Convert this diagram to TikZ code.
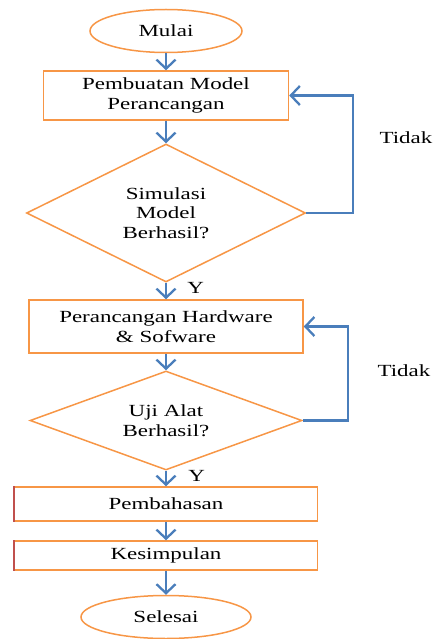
\documentclass[tikz,border=0pt]{standalone}
\usepackage{fontspec}
\setmainfont{Liberation Serif}[FakeStretch=1.35]
\usepackage{tikz}
\usetikzlibrary{arrows.meta,shapes.geometric}
\definecolor{boxorange}{HTML}{F79646}
\definecolor{arrblue}{HTML}{4A7EBB}
\definecolor{edgered}{HTML}{C0504D}

\begin{document}
\begin{tikzpicture}[x=1pt, y=1pt,
    font=\fontsize{17pt}{19.5pt}\selectfont,
    base/.style = {draw=boxorange, line width=1.5pt, align=center, inner sep=0pt},
    term/.style = {base, ellipse},
    proc/.style = {base, rectangle},
    cond/.style = {base, diamond},
    arr/.style = {draw=arrblue, line width=2.3pt, -{Straight Barb[length=9pt, width=19pt]}}]
            \useasboundingbox (0,0) rectangle (436,-639);

            \node[term, minimum width=152pt, minimum height=43pt] (mulai) at (166,-31) {Mulai};
            \node[proc, minimum width=245pt, minimum height=49pt] (model) [below of=mulai, node distance=64.5pt] {Pembuatan Model\\Perancangan};
            \node[cond, aspect=2, minimum width=279pt, minimum height=138pt] (simulasi) [below of=model, node distance=117.5pt] {Simulasi\\Model\\Berhasil?};
            \node[proc, minimum width=274pt, minimum height=53pt] (hw) [below of=simulasi, node distance=113.5pt] {Perancangan Hardware\\\& Sofware};
            \node[cond, aspect=2.75, minimum width=272pt, minimum height=99pt] (uji) [below of=hw, node distance=94pt] {Uji Alat\\Berhasil?};
            \node[proc, minimum width=303pt, minimum height=34pt] (bahas) [below of=uji, node distance=83.5pt] {Pembahasan};
            \node[proc, minimum width=303pt, minimum height=29pt] (simpul) [below of=bahas, node distance=51.5pt] {Kesimpulan};
            \node[term, minimum width=170pt, minimum height=43pt] (selesai) [below of=simpul, node distance=61.5pt] {Selesai};

            \node (tidak1) at (406,-138) {Tidak};
            \node (tidak2) at (404,-371) {Tidak};

            \path[arr] (mulai) edge (model);
            \path[arr] (model) edge (simulasi);
            \path[arr] (simulasi) edge node[right, xshift=17pt, yshift=3pt] {Y} (hw);
            \path[arr] (hw) edge (uji);
            \path[arr] (uji) edge node[right, xshift=18pt, yshift=3pt] {Y} (bahas);
            \path[arr] (bahas) edge (simpul);
            \path[arr] (simpul) edge (selesai);

            \draw[arr] (simulasi.east) -- ++(47,0) |- (model.east);
            \draw[arr] (uji.east) -- ++(45,0) |- (hw.east);

            \draw[edgered, line width=2pt] (bahas.north west) -- (bahas.south west);
            \draw[edgered, line width=2pt] (simpul.north west) -- (simpul.south west);
        \end{tikzpicture}
\end{document}
